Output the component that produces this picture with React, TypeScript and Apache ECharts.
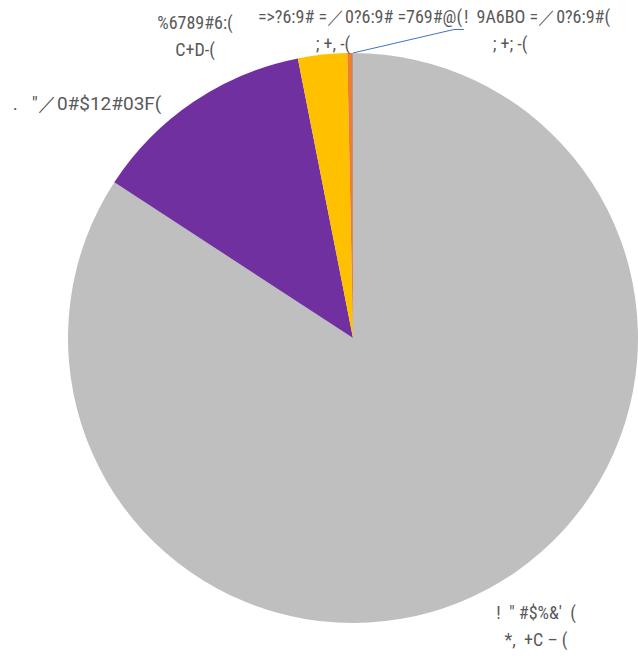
import React, { useEffect, useRef } from "react";
import * as echarts from "echarts";

const categoryLines1 = [
  "!  \" #$%&'  (",
  ".   \"／0#$12#03F(",
  "%6789#6:(",
  "=>?6:9# =／0?6:9# =769#@(",
  "!  9A6BO =／0?6:9#(",
];
const categoryLines2 = ["*,  +C – (", "", "C+D-(", "; +, -(", "; +; -("];
const values = [84.2, 12.7, 2.78, 0.3, 0.02];
const colors = ["#BFBFBF", "#7030A0", "#FFC000", "#ED7D31", "#4472C4"];
const labelCenters: [number, number][] = [
  [536, 626],
  [87, 103],
  [195, 35.5],
  [360, 29.5],
  [537, 29.5],
];
const line2Shift = [0, 0, 0, 54, 54];

const NARROW = "'Liberation Sans Narrow', 'Roboto Condensed', Roboto, sans-serif";
const WIDE = "Roboto, sans-serif";

export default function App() {
  const ref = useRef<HTMLDivElement>(null);
  useEffect(() => {
    if (!ref.current) return;
    const chart = echarts.init(ref.current, undefined, { renderer: "svg" });
    chart.setOption({
      animation: false,
      backgroundColor: "#ffffff",
      series: [
        {
          type: "pie",
          center: [353, 338],
          radius: 285,
          startAngle: 90,
          clockwise: true,
          avoidLabelOverlap: false,
          minAngle: 0,
          itemStyle: { borderWidth: 0 },
          emphasis: { disabled: true },
          data: values.map((v, i) => {
            const fam = i === 1 ? WIDE : NARROW;
            const size = i === 1 ? 19 : 18;
            return {
              value: v,
              name: categoryLines1[i],
              itemStyle: { color: colors[i] },
              label: {
                show: true,
                position: "outside",
                formatter: categoryLines2[i]
                  ? `{a${i}|${categoryLines1[i]}}\n{b${i}|${categoryLines2[i]}}`
                  : `{a${i}|${categoryLines1[i]}}`,
                rich: {
                  [`a${i}`]: { fontSize: size, color: "#595959", fontFamily: fam, lineHeight: 27 },
                  [`b${i}`]: {
                    fontSize: size,
                    color: "#595959",
                    fontFamily: fam,
                    lineHeight: 27,
                    padding: [0, line2Shift[i], 0, 0],
                  },
                },
              },
              labelLine: {
                show: i === 4,
                lineStyle: { color: "#4472C4", width: 1 },
              },
            };
          }),
          label: { color: "#595959", fontSize: 18, fontFamily: NARROW },
          labelLine: { length: 10, length2: 10, smooth: false },
          labelLayout: (params: any) => {
            const p = labelCenters[params.dataIndex];
            return { x: p[0], y: p[1], align: "center", verticalAlign: "middle" };
          },
        },
      ],
    });
    return () => chart.dispose();
  }, []);
  return (
    <div
      ref={ref}
      style={{ position: "absolute", left: 0, top: 0, width: 638, height: 656 }}
    />
  );
}
